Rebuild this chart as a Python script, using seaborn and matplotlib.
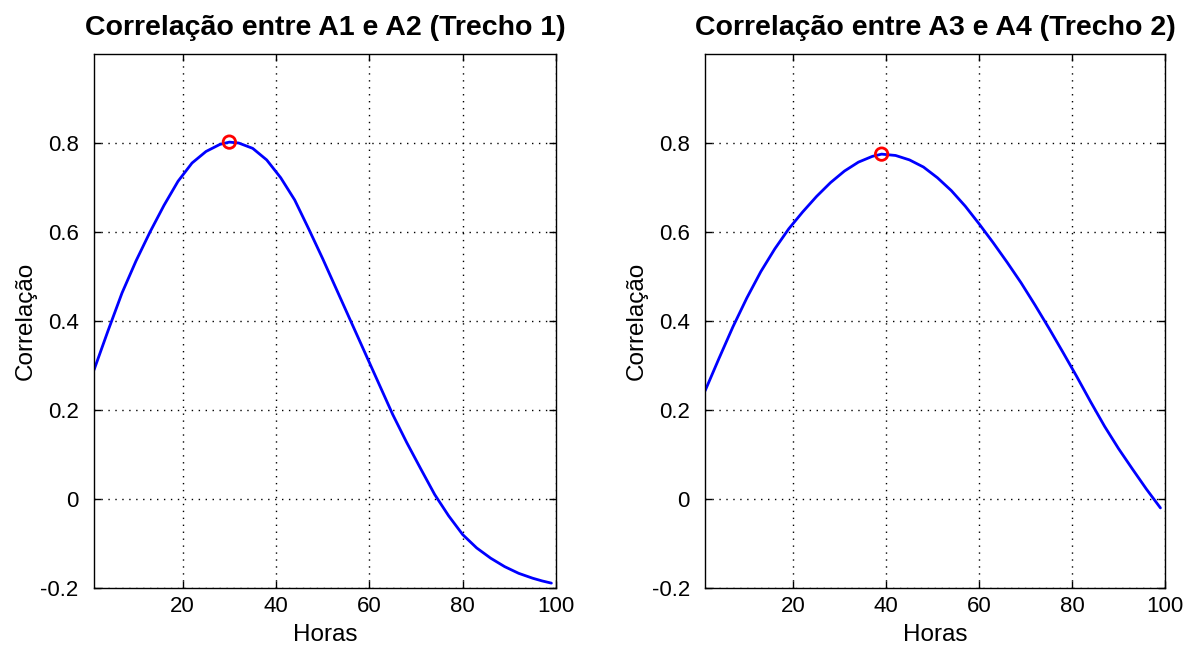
import numpy as np
import pandas as pd
import seaborn as sns
import matplotlib.pyplot as plt

sns.set_theme(style="ticks")
plt.rcParams['font.family'] = ['Liberation Sans', 'DejaVu Sans']
plt.rcParams['text.color'] = 'black'
plt.rcParams['axes.labelcolor'] = 'black'

# trecho 1 (A1 x A2)
horas1 = [1, 4, 7, 10, 13, 16, 19, 22, 25, 28, 30, 32, 35, 38, 41, 44, 47, 50,
          53, 56, 59, 62, 65, 68, 71, 74, 77, 80, 83, 86, 89, 92, 95, 97, 99]
corr1 = [0.29, 0.378, 0.463, 0.535, 0.600, 0.660, 0.714, 0.755, 0.781, 0.797,
         0.802, 0.800, 0.788, 0.762, 0.722, 0.672, 0.607, 0.540, 0.470, 0.400,
         0.330, 0.260, 0.190, 0.127, 0.068, 0.010, -0.038, -0.080, -0.110,
         -0.133, -0.152, -0.167, -0.178, -0.184, -0.189]

# trecho 2 (A3 x A4)
horas2 = [1, 4, 7, 10, 13, 16, 19, 22, 25, 28, 31, 34, 37, 39, 42, 45, 48, 51,
          54, 57, 60, 63, 66, 69, 72, 75, 78, 81, 84, 87, 90, 93, 96, 99]
corr2 = [0.243, 0.316, 0.387, 0.452, 0.511, 0.562, 0.607, 0.645, 0.680, 0.711,
         0.737, 0.757, 0.770, 0.775, 0.772, 0.762, 0.746, 0.722, 0.693, 0.658,
         0.618, 0.576, 0.532, 0.486, 0.436, 0.384, 0.330, 0.275, 0.218, 0.163,
         0.113, 0.067, 0.022, -0.020]

titulos = ["Correlação entre A1 e A2 (Trecho 1)", "Correlação entre A3 e A4 (Trecho 2)"]
xticks = [20, 40, 60, 80, 100]
yticks = [-0.2, 0, 0.2, 0.4, 0.6, 0.8]
yticklabels = ["-0.2", "0", "0.2", "0.4", "0.6", "0.8"]

fig = plt.figure(figsize=(11.93, 6.53), dpi=100)
ax1 = fig.add_axes([0.0788, 0.0995, 0.3873, 0.8178])
ax2 = fig.add_axes([0.591, 0.0995, 0.3856, 0.8178])

for ax, hx, cy, tit in [(ax1, horas1, corr1, titulos[0]), (ax2, horas2, corr2, titulos[1])]:
    df = pd.DataFrame({"Horas": hx, "Correlacao": cy})
    sns.lineplot(data=df, x="Horas", y="Correlacao", ax=ax, color=(0, 0, 1), lw=2)
    i = int(np.argmax(cy))
    sns.scatterplot(x=[hx[i]], y=[cy[i]], ax=ax, marker="o", s=80,
                    facecolor="none", edgecolor="red", linewidth=2, zorder=5)
    ax.set_xlim(1, 100)
    ax.set_ylim(-0.2, 1.0)
    ax.set_xticks(xticks)
    ax.set_yticks(yticks)
    ax.set_yticklabels(yticklabels)
    ax.grid(True, color="black", linestyle=(0, (1, 4)), linewidth=1)
    ax.tick_params(direction="in", length=5, width=1, top=True, right=True,
                   labelsize=16, colors="black")
    ax.tick_params(axis="y", pad=11)
    ax.tick_params(axis="x", pad=6)
    for s in ax.spines.values():
        s.set_color("black")
        s.set_linewidth(1)
    ax.set_title(tit, fontsize=20.5, fontweight="bold", pad=14, color="black")
    ax.set_xlabel("Horas", fontsize=17.5, labelpad=5)
    ax.set_ylabel("Correlação", fontsize=17.5, labelpad=3)

fig.savefig("out.png", dpi=100)
